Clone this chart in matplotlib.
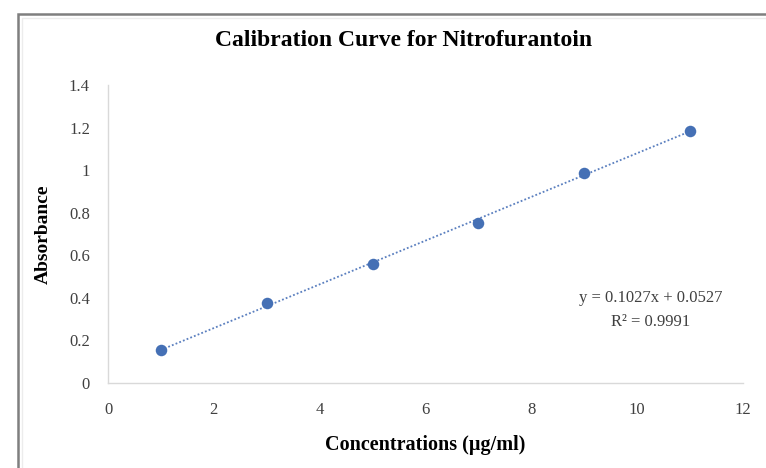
import matplotlib
matplotlib.use("Agg")
import matplotlib.pyplot as plt
from matplotlib.patches import Rectangle
import numpy as np

# Data
concentrations = [1, 3, 5, 7, 9, 11]
absorbance = [0.155, 0.374, 0.559, 0.750, 0.986, 1.186]
slope = 0.1027
intercept = 0.0527
r_squared = 0.9991
x_ticks = [0, 2, 4, 6, 8, 10, 12]
y_ticks = [0, 0.2, 0.4, 0.6, 0.8, 1.0, 1.2, 1.4]
y_tick_labels = ["0", "0.2", "0.4", "0.6", "0.8", "1", "1.2", "1.4"]

plt.rcParams['font.family'] = ['Liberation Serif', 'DejaVu Serif']

W, H = 766, 468
fig = plt.figure(figsize=(W / 100, H / 100), dpi=100)
fig.patch.set_facecolor("white")

# outer chart frame (extends beyond the right/bottom image edge)
fig.patches.append(Rectangle((18 / W, -0.05), 1.1, (H - 14) / H + 0.05,
                             transform=fig.transFigure, fill=False,
                             edgecolor="#7f7f7f", linewidth=1.8, zorder=0))
fig.patches.append(Rectangle((22 / W, -0.05), 1.1, (H - 18) / H + 0.05,
                             transform=fig.transFigure, fill=False,
                             edgecolor="#ececec", linewidth=1.0, zorder=0))

ax = fig.add_axes([108 / W, (H - 383) / H, (743 - 108) / W, (383 - 85) / H])
ax.set_xlim(0, 12)
ax.set_ylim(0, 1.4)

blue = "#4570B5"
xs = np.array([concentrations[0], concentrations[-1]])
ax.plot(xs, slope * xs + intercept, linestyle=(0, (1, 1.2)), color="#5a7fbf",
        linewidth=1.3, zorder=2)
ax.plot(concentrations, absorbance, 'o', color=blue, markersize=8.3,
        markeredgewidth=0, zorder=3)

for s in ["top", "right"]:
    ax.spines[s].set_visible(False)
for s in ["left", "bottom"]:
    ax.spines[s].set_color("#d9d9d9")
    ax.spines[s].set_linewidth(1.0)

ax.set_xticks(x_ticks)
ax.set_xticklabels([str(t) for t in x_ticks])
ax.set_yticks(y_ticks)
ax.set_yticklabels(y_tick_labels)
ax.tick_params(axis='both', length=0, labelsize=12, labelcolor="#404040")
ax.tick_params(axis='x', pad=14)
ax.tick_params(axis='y', pad=13)

ax.set_xlabel("Concentrations (µg/ml)", fontsize=14.5, fontweight="bold",
              labelpad=12)
ax.set_ylabel("Absorbance", fontsize=14, fontweight="bold", labelpad=12)

fig.text(404 / W, 1 - 40 / H, "Calibration Curve for Nitrofurantoin",
         ha="center", va="center", fontsize=17, fontweight="bold")

ax.text(0.854, 0.245, f"y = {slope}x + {intercept}\nR² = {r_squared}",
        transform=ax.transAxes, ha="center", va="center", fontsize=12,
        color="#404040", linespacing=1.6)

fig.savefig("out.png", dpi=100, facecolor="white")
